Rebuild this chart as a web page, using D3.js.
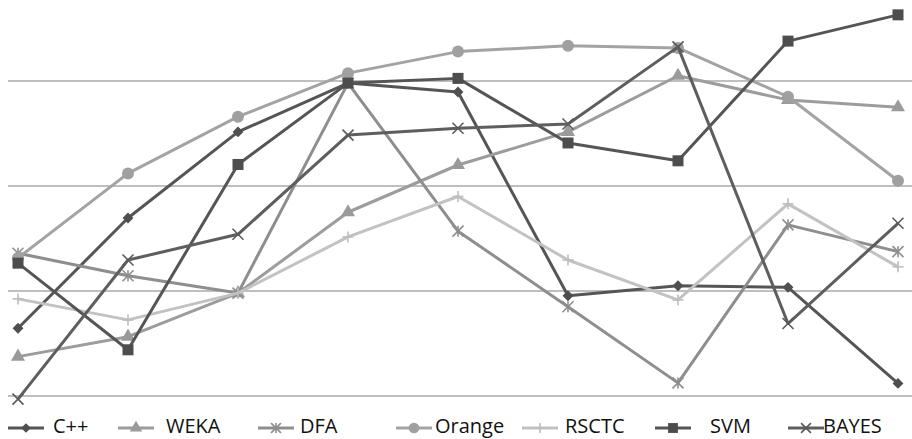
<!DOCTYPE html>
<html>
<head>
<meta charset="utf-8">
<script src="https://cdn.jsdelivr.net/npm/d3@7"></script>
<style>
  html, body { margin: 0; padding: 0; background: #fff; }
  svg { display: block; }
  text { font-family: "Open Sans", "Noto Sans", sans-serif; }
</style>
</head>
<body>
<svg id="chart" width="912" height="439"></svg>
<script>
// Test cases along the x axis
const categories = ["1", "2", "3", "4", "5", "6", "7", "8", "9"];

// Score of each method per test case
const cpp    = [32.9, 53.9, 70.3, 79.6, 77.9, 39.1, 41.0, 40.7, 22.4];
const weka   = [27.5, 31.3, 39.6, 55.0, 64.0, 70.3, 81.0, 76.4, 75.0];
const dfa    = [47.2, 42.9, 39.6, 79.6, 51.4, 37.0, 22.5, 52.6, 47.5];
const orange = [46.3, 62.4, 73.2, 81.5, 85.6, 86.7, 86.3, 77.0, 61.0];
const rsctc  = [38.5, 34.5, 39.6, 50.3, 58.0, 45.9, 38.3, 56.6, 44.6];
const svm    = [45.3, 28.8, 64.1, 79.6, 80.5, 68.2, 64.8, 87.6, 92.6];
const bayes  = [19.4, 45.9, 50.8, 69.7, 71.0, 71.8, 86.5, 33.8, 52.9];

// Horizontal reference lines
const gridTicks = [20, 40, 60, 80];

const seriesNames = ["C++", "WEKA", "DFA", "Orange", "RSCTC", "SVM", "BAYES"];

const series = [
  { name: "C++",    values: cpp,    color: "#555555", mark: "#4f4f4f", shape: "diamond" },
  { name: "WEKA",   values: weka,   color: "#9c9c9c", mark: "#9a9a9a", shape: "triangle" },
  { name: "DFA",    values: dfa,    color: "#8e8e8e", mark: "#8e8e8e", shape: "asterisk" },
  { name: "Orange", values: orange, color: "#a3a3a3", mark: "#a0a0a0", shape: "circle" },
  { name: "RSCTC",  values: rsctc,  color: "#c2c2c2", mark: "#bdbdbd", shape: "plus" },
  { name: "SVM",    values: svm,    color: "#555555", mark: "#4d4d4d", shape: "square" },
  { name: "BAYES",  values: bayes,  color: "#5e5e5e", mark: "#5a5a5a", shape: "cross" }
];

const svg = d3.select("#chart");

const x = d3.scalePoint().domain(categories).range([18, 898]);
const y = d3.scaleLinear().domain([20, 80]).range([396, 81]);

// Grid
svg.append("g")
  .selectAll("line")
  .data(gridTicks)
  .join("line")
  .attr("x1", 8).attr("x2", 912)
  .attr("y1", d => y(d)).attr("y2", d => y(d))
  .attr("stroke", "#bfbfbf")
  .attr("stroke-width", 2);

// Marker drawing
function drawMarker(g, shape, cx, cy, color, s) {
  s = s || 1;
  if (shape === "diamond") {
    g.append("path")
      .attr("d", d3.symbol().type(d3.symbolDiamond2).size(75 * s)())
      .attr("transform", `translate(${cx},${cy})`)
      .attr("fill", color);
  } else if (shape === "triangle") {
    g.append("path")
      .attr("d", d3.symbol().type(d3.symbolTriangle).size(85 * s)())
      .attr("transform", `translate(${cx},${cy})`)
      .attr("fill", color);
  } else if (shape === "circle") {
    g.append("circle").attr("cx", cx).attr("cy", cy).attr("r", 6 * Math.sqrt(s)).attr("fill", color);
  } else if (shape === "square") {
    const h = 5.5 * Math.sqrt(s);
    g.append("rect").attr("x", cx - h).attr("y", cy - h).attr("width", 2 * h).attr("height", 2 * h).attr("fill", color);
  } else {
    const r = 5.5 * Math.sqrt(s);
    let segs = [];
    if (shape === "plus" || shape === "asterisk") segs.push([0, -r, 0, r]);
    if (shape === "plus") segs.push([-r, 0, r, 0]);
    if (shape === "cross" || shape === "asterisk") {
      segs.push([-r, -r, r, r]);
      segs.push([-r, r, r, -r]);
    }
    segs.forEach(sg => {
      g.append("line")
        .attr("x1", cx + sg[0]).attr("y1", cy + sg[1])
        .attr("x2", cx + sg[2]).attr("y2", cy + sg[3])
        .attr("stroke", color).attr("stroke-width", 1.6);
    });
  }
}

const line = d3.line()
  .x((d, i) => x(categories[i]))
  .y(d => y(d));

series.forEach(s => {
  const g = svg.append("g");
  g.append("path")
    .datum(s.values)
    .attr("d", line)
    .attr("fill", "none")
    .attr("stroke", s.color)
    .attr("stroke-width", 3)
    .attr("stroke-linejoin", "round");
  s.values.forEach((v, i) => drawMarker(g, s.shape, x(categories[i]), y(v), s.mark));
});

// Legend
const legendItems = [
  { lx: 8,   tx: 53 },
  { lx: 118, tx: 166 },
  { lx: 258, tx: 300 },
  { lx: 396, tx: 435 },
  { lx: 522, tx: 565 },
  { lx: 655, tx: 710 },
  { lx: 788, tx: 823 }
];
const legendY = 428;
series.forEach((s, i) => {
  const it = legendItems[i];
  const g = svg.append("g");
  g.append("line")
    .attr("x1", it.lx).attr("x2", it.lx + 36)
    .attr("y1", legendY).attr("y2", legendY)
    .attr("stroke", s.color).attr("stroke-width", 3);
  drawMarker(g, s.shape, it.lx + 18, legendY, s.mark, 0.8);
  g.append("text")
    .attr("x", it.tx).attr("y", legendY + 5)
    .attr("font-size", 20)
    .attr("fill", "#111")
    .text(seriesNames[i]);
});
</script>
</body>
</html>
